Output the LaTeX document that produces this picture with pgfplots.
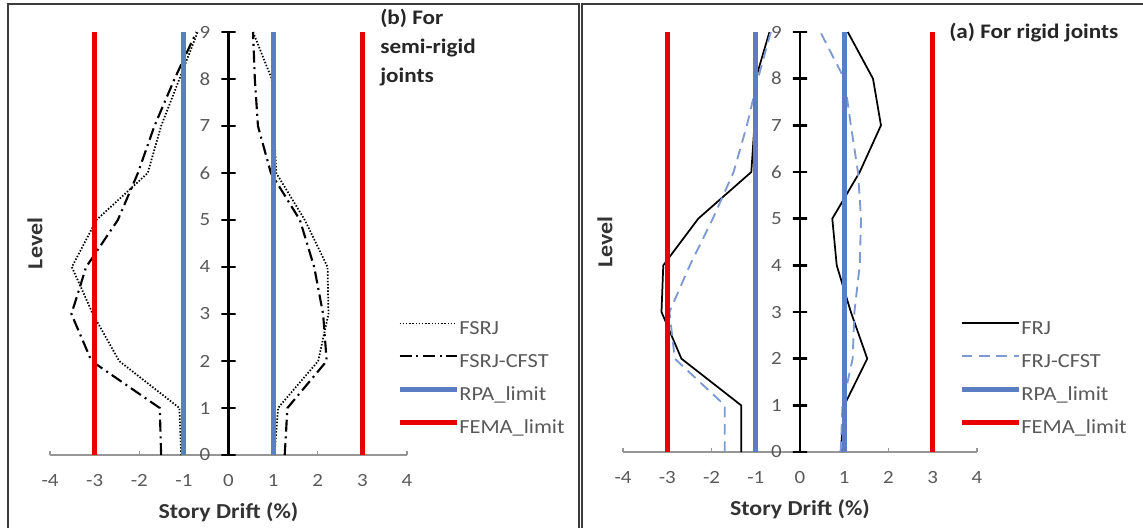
\documentclass[border=0pt]{standalone}
\usepackage{pgfplots}
\pgfplotsset{compat=1.18}
\usepackage{pgfplotstable}
\usepackage{fontspec}
\setmainfont{Carlito}[FakeStretch=1.12]

\definecolor{rpablue}{RGB}{90,125,195}
\definecolor{femared}{RGB}{232,0,0}
\definecolor{cfstblue}{RGB}{125,155,210}
\definecolor{tickgray}{RGB}{89,89,89}
\definecolor{axgray}{RGB}{150,150,150}
\definecolor{framegray}{RGB}{60,60,60}

% level, negative drift, positive drift
\pgfplotstableread{
lev neg pos
0 -1.06 1.03
1 -1.10 1.11
2 -2.45 2.01
3 -3.04 2.24
4 -3.51 2.22
5 -2.96 1.71
6 -1.81 1.07
7 -1.51 1.02
8 -1.10 0.97
9 -0.69 0.55
}\fsrj
\pgfplotstableread{
lev neg pos
0 -1.51 1.26
1 -1.54 1.32
2 -3.07 2.20
3 -3.52 2.12
4 -3.19 1.92
5 -2.48 1.60
6 -2.03 0.95
7 -1.66 0.66
8 -1.21 0.59
9 -0.72 0.55
}\fsrjcfst
\pgfplotstableread{
lev neg pos
0 -1.33 0.92
1 -1.33 1.00
2 -2.68 1.52
3 -3.13 1.15
4 -3.09 0.83
5 -2.30 0.73
6 -1.10 1.35
7 -1.03 1.83
8 -1.00 1.65
9 -0.69 1.08
}\frj
\pgfplotstableread{
lev neg pos
0 -1.70 0.92
1 -1.70 0.96
2 -2.83 1.19
3 -2.95 1.23
4 -2.49 1.35
5 -1.97 1.38
6 -1.50 1.31
7 -1.20 1.15
8 -0.95 1.00
9 -0.66 0.46
}\frjcfst

% level axis at zero drift traced as one path, with a cross tick at every level
\pgfplotstableread{
dx lev
0 0
-0.16 0
0.16 0
0 0
0 1
-0.16 1
0.16 1
0 1
0 2
-0.16 2
0.16 2
0 2
0 3
-0.16 3
0.16 3
0 3
0 4
-0.16 4
0.16 4
0 4
0 5
-0.16 5
0.16 5
0 5
0 6
-0.16 6
0.16 6
0 6
0 7
-0.16 7
0.16 7
0 7
0 8
-0.16 8
0.16 8
0 8
0 9
-0.16 9
0.16 9
0 9
}\levelaxis

\pgfplotsset{
  driftaxis/.style={
    scale only axis,
    xmin=-4, xmax=4, ymin=0, ymax=9,
    axis x line=bottom, axis y line=left,
    clip=false,
    xtick=\empty,
    extra x ticks={-4,-3,-2,-1,0,1,2,3,4},
    extra x tick style={major tick length=3pt, tick align=inside,
      tick style={axgray, line width=0.9pt}},
    ytick={0,1,...,9},
    ytick style={draw=none},
    x axis line style={axgray, line width=1pt, -},
    y axis line style={draw=none},
    ticklabel style={font=\fontsize{14}{16}\selectfont, text=tickgray},
    /pgf/number format/assume math mode=true,
    xticklabel style={yshift=-11pt},
    xlabel={Story Drift (\%)}, ylabel={Level},
    every axis x label/.style={at={(axis description cs:0.5,0)}, anchor=center, yshift=-43pt,
      font=\bfseries\fontsize{16}{18}\selectfont, text=black!80},
    legend style={draw=none, fill=none, inner sep=0pt, anchor=north west,
      font=\fontsize{15}{16}\selectfont, text=tickgray, row sep=11.25pt, column sep=0pt,
      nodes={inner sep=0pt, text height=10.5pt, text depth=3pt}},
    legend cell align=left,
    legend image code/.code={\draw[##1] (0pt,4.5pt) -- (43pt,4.5pt);},
  },
  fsrjstyle/.style={black, line width=1.3pt, dash pattern=on 1.1pt off 1.3pt},
  cfststyle/.style={black, line width=1.6pt, dash pattern=on 9pt off 3.5pt on 1.5pt off 3.5pt},
  frjstyle/.style={black, line width=1.3pt},
  frjcfststyle/.style={cfstblue, line width=1.4pt, dash pattern=on 8pt off 5pt},
  rpastyle/.style={rpablue, line width=3.75pt},
  femastyle/.style={femared, line width=3.5pt},
  levelaxisstyle/.style={black, line width=1.8pt, line join=bevel, line cap=butt, forget plot},
}

\begin{document}
\begin{tikzpicture}
\path[use as bounding box] (0pt,0pt) rectangle (857.25pt,-396pt);

% panel frames
\draw[framegray, line width=1.5pt] (5.75pt,-396pt) -- (5.75pt,-3.2pt) -- (434.25pt,-3.2pt) -- (434.25pt,-396pt);
\draw[framegray, line width=1.5pt] (436.5pt,-396pt) -- (436.5pt,-3.2pt) -- (857.25pt,-3.2pt);

% left panel (b)
\begin{axis}[driftaxis, at={(37.5pt,-341.25pt)}, anchor=south west,
  width=267.75pt, height=317.25pt,
  yticklabel style={xshift=125.9pt},
  every axis y label/.style={at={(axis description cs:-0.042,0.5)}, rotate=90, anchor=center,
      font=\bfseries\fontsize{16}{18}\selectfont, text=black!80},
  legend style={at={(axis cs:3.77,2.87)}}]
\addplot[fsrjstyle] table[x=neg, y=lev] {\fsrj};
\addlegendentry{FSRJ}
\addplot[fsrjstyle, forget plot] table[x=pos, y=lev] {\fsrj};
\addplot[cfststyle] table[x=neg, y=lev] {\fsrjcfst};
\addlegendentry{FSRJ-CFST}
\addplot[cfststyle, forget plot] table[x=pos, y=lev] {\fsrjcfst};
\addplot[rpastyle] coordinates {(-1,0) (-1,9)};
\addlegendentry{RPA\_limit}
\addplot[rpastyle, forget plot] coordinates {(1,0) (1,9)};
\addplot[femastyle] coordinates {(-3,0) (-3,9)};
\addlegendentry{FEMA\_limit}
\addplot[femastyle, forget plot] coordinates {(3,0) (3,9)};
\addplot[levelaxisstyle] table[x=dx, y=lev] {\levelaxis};
\end{axis}

% right panel (a)
\begin{axis}[driftaxis, at={(467.25pt,-339pt)}, anchor=south west,
  width=265.5pt, height=315pt,
  yticklabel style={xshift=124.75pt},
  every axis y label/.style={at={(axis description cs:-0.051,0.5)}, rotate=90, anchor=center,
      font=\bfseries\fontsize{16}{18}\selectfont, text=black!80},
  legend style={at={(axis cs:3.59,2.83)}}]
\addplot[frjstyle] table[x=neg, y=lev] {\frj};
\addlegendentry{FRJ}
\addplot[frjstyle, forget plot] table[x=pos, y=lev] {\frj};
\addplot[frjcfststyle] table[x=neg, y=lev] {\frjcfst};
\addlegendentry{FRJ-CFST}
\addplot[frjcfststyle, forget plot] table[x=pos, y=lev] {\frjcfst};
\addplot[rpastyle] coordinates {(-1,0) (-1,9)};
\addlegendentry{RPA\_limit}
\addplot[rpastyle, forget plot] coordinates {(1,0) (1,9)};
\addplot[femastyle] coordinates {(-3,0) (-3,9)};
\addlegendentry{FEMA\_limit}
\addplot[femastyle, forget plot] coordinates {(3,0) (3,9)};
\addplot[levelaxisstyle] table[x=dx, y=lev] {\levelaxis};
\end{axis}

% panel titles
\node[anchor=north west, align=left, inner sep=0pt, font=\bfseries\fontsize{15.5}{21.75}\selectfont, text=black!85]
  at (285pt,-7pt) {(b) For\\semi-rigid\\joints};
\node[anchor=west, inner sep=0pt, font=\bfseries\fontsize{15.5}{18}\selectfont, text=black!85]
  at (711.75pt,-24.75pt) {(a) For rigid joints};
\end{tikzpicture}
\end{document}
